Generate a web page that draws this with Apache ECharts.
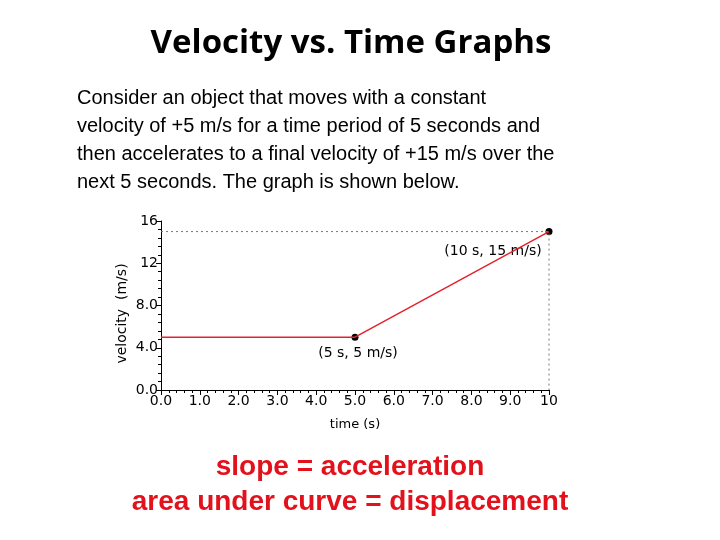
<!DOCTYPE html>
<html>
<head>
<meta charset="utf-8">
<script src="https://cdn.jsdelivr.net/npm/echarts@6/dist/echarts.min.js"></script>
<style>html,body{margin:0;padding:0;background:#fff}#c{width:720px;height:540px}</style>
</head>
<body>
<div id="c"></div>
<script>
const titleText = 'Velocity vs. Time Graphs';
const introLines = [
  'Consider an object that moves with a constant',
  'velocity of +5 m/s for a time period of 5 seconds and',
  'then accelerates to a final velocity of +15 m/s over the',
  'next 5 seconds. The graph is shown below.'
];
const noteLines = ['slope = acceleration', 'area under curve = displacement'];
const xTickLabels = ['0.0','1.0','2.0','3.0','4.0','5.0','6.0','7.0','8.0','9.0','10'];
const yTickLabels = {0:'0.0',4:'4.0',8:'8.0',12:'12',16:'16'};
const velocityLine = [[0,5],[5,5],[10,15]];
const guideLine = [[0,15],[10,15],[10,0]];
const keyPoints = [[5,5],[10,15]];
const keyLabels = ['(5 s, 5 m/s)', '(10 s, 15 m/s)'];

const chart = echarts.init(document.getElementById('c'));
const axisFont = 'DejaVu Sans';
chart.setOption({
  backgroundColor: '#fff',
  animation: false,
  graphic: [
    {type: 'text', style: {text: titleText, x: 351, y: 44,
      textAlign: 'center', textVerticalAlign: 'middle',
      font: 'bold 33px "Open Sans"', fill: '#000'}},
    {type: 'text', style: {text: introLines.join('\n'), x: 77, y: 84,
      font: '20px "Liberation Sans"', lineHeight: 28.2, fill: '#000'}},
    {type: 'text', style: {text: noteLines[0], x: 350, y: 467,
      textAlign: 'center', textVerticalAlign: 'middle',
      font: 'bold 28px "Liberation Sans"', fill: '#e3111b'}},
    {type: 'text', style: {text: noteLines[1], x: 350, y: 502,
      textAlign: 'center', textVerticalAlign: 'middle',
      font: 'bold 28px "Liberation Sans"', fill: '#e3111b'}}
  ],
  grid: {left: 161, top: 221, right: 171, bottom: 150},
  xAxis: {
    type: 'value', min: 0, max: 10, interval: 1,
    name: 'time (s)', nameLocation: 'middle', nameGap: 28,
    nameTextStyle: {fontFamily: axisFont, fontSize: 13, color: '#000'},
    axisLine: {lineStyle: {color: '#000', width: 1}},
    axisTick: {length: 5, lineStyle: {color: '#000'}},
    minorTick: {show: true, splitNumber: 5, length: 3, lineStyle: {color: '#000'}},
    splitLine: {show: false},
    axisLabel: {fontFamily: axisFont, fontSize: 14, color: '#000', margin: 4,
      formatter: v => xTickLabels[Math.round(v)]}
  },
  yAxis: {
    type: 'value', min: 0, max: 16, interval: 4,
    name: 'velocity  (m/s)', nameLocation: 'middle', nameGap: 32, nameRotate: 90,
    nameMoveOverlap: false,
    nameTextStyle: {fontFamily: axisFont, fontSize: 14, color: '#000', padding: [0, 0, 0, -16]},
    axisLine: {show: true, lineStyle: {color: '#000', width: 1}},
    axisTick: {show: true, length: 5, lineStyle: {color: '#000'}},
    minorTick: {show: true, splitNumber: 5, length: 3, lineStyle: {color: '#000'}},
    splitLine: {show: false},
    axisLabel: {fontFamily: axisFont, fontSize: 14, color: '#000', margin: 3,
      formatter: v => yTickLabels[Math.round(v)]}
  },
  series: [
    {type: 'line', data: guideLine, symbol: 'none', silent: true,
     lineStyle: {color: '#777', width: 1, type: [2, 3]}},
    {type: 'line', data: velocityLine, symbol: 'none',
     lineStyle: {color: '#e5222c', width: 1.5}},
    {type: 'scatter', symbolSize: 7, itemStyle: {color: '#000', opacity: 1},
     data: keyPoints.map((p, i) => ({
       value: p,
       label: {show: true, formatter: keyLabels[i], position: 'bottom',
         offset: i === 0 ? [3, 0] : [-56, 3], distance: 6,
         fontFamily: axisFont, fontSize: 14, color: '#000'}
     }))}
  ]
});
</script>
</body>
</html>
